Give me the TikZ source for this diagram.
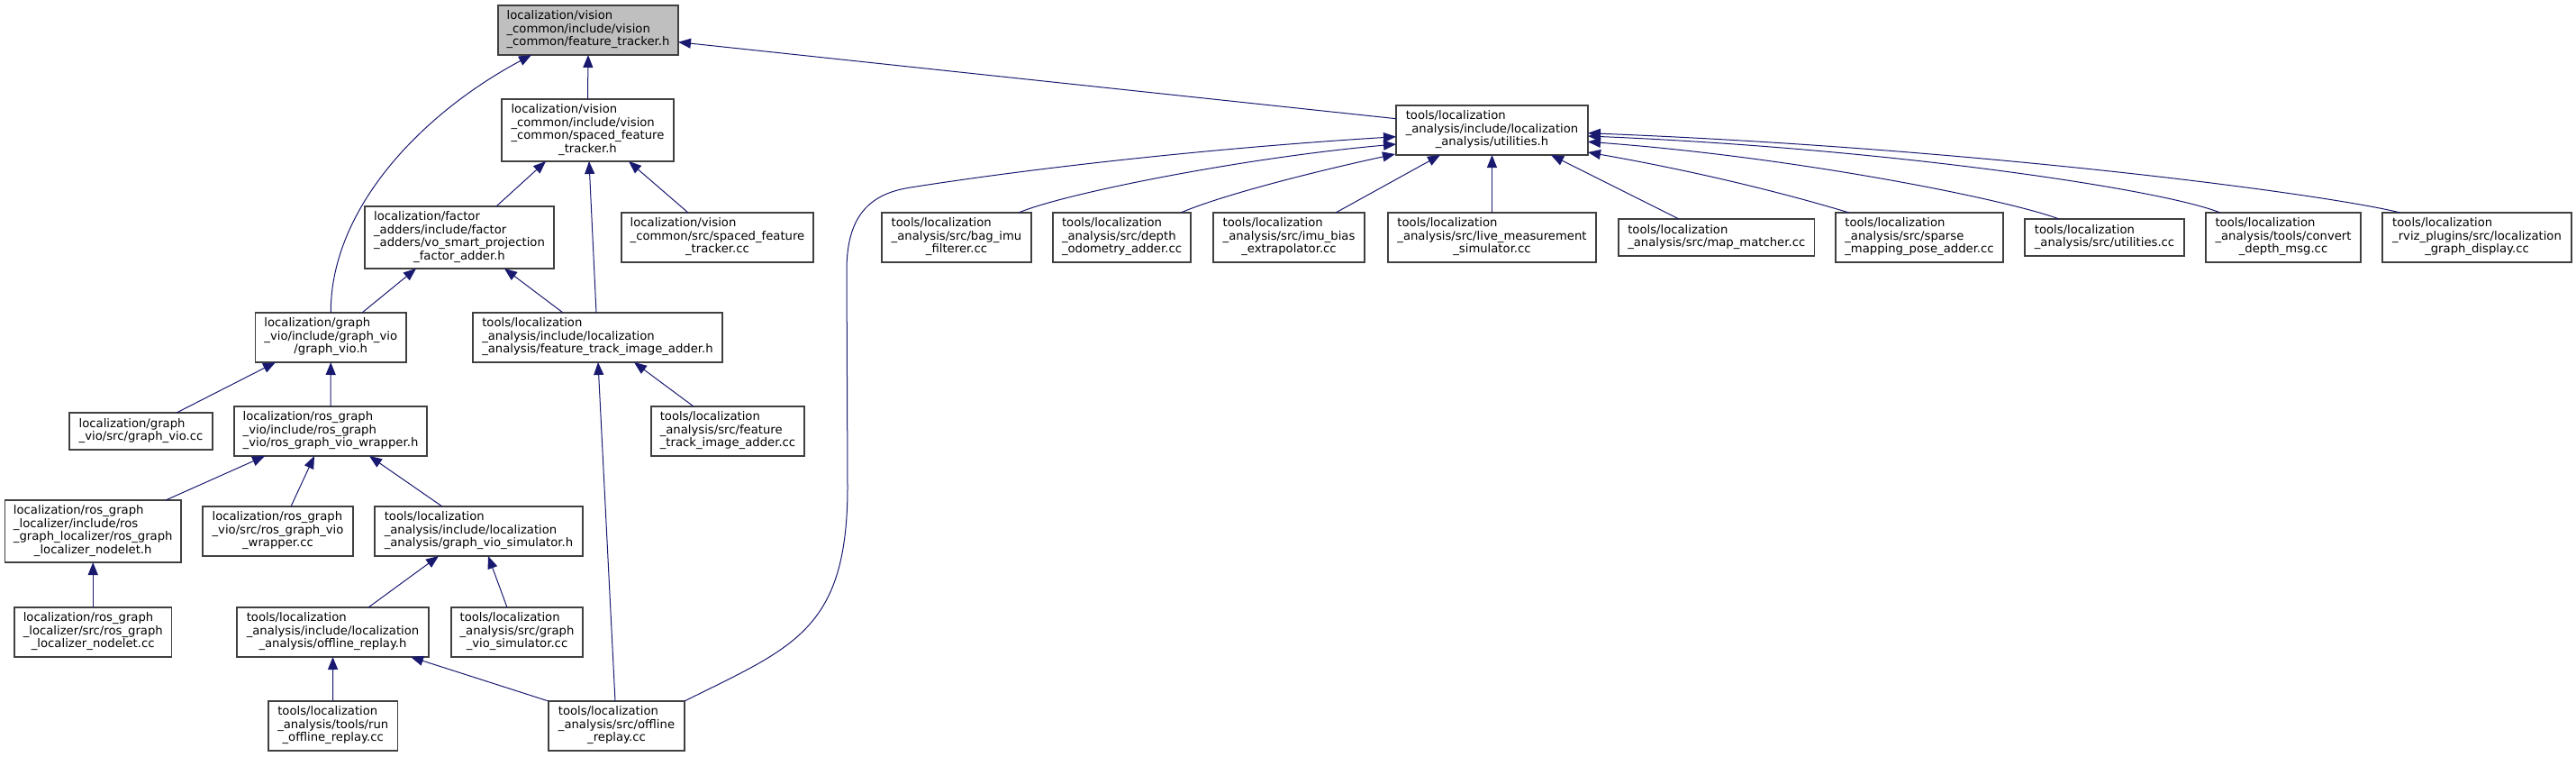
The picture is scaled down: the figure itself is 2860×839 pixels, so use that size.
\documentclass[tikz,border=0pt]{standalone}
\usepackage{fontspec}
\setmainfont{DejaVu Sans}
\usetikzlibrary{arrows.meta,calc}
\definecolor{edgeblue}{HTML}{191970}
\definecolor{rootgray}{HTML}{BFBFBF}
\definecolor{boxline}{HTML}{404040}
\newcommand\lbtab[1]{\begin{tabular}{@{}l@{}}#1\end{tabular}}
\newcommand\lastc[1]{\multicolumn{1}{@{}c@{}}{#1}}
\begin{document}
\begin{tikzpicture}[x=1pt,y=-1pt,
  nb/.style={rectangle,draw=boxline,line width=1.1pt,fill=white,inner sep=0pt,outer sep=0pt,font=\fontsize{13.2}{14.5}\selectfont},
  rootbox/.style={nb,fill=rootgray},
  edge/.style={draw=edgeblue,line width=1pt,-{Triangle[length=14pt,width=11pt]}}]
\useasboundingbox (0,0) rectangle (2860,839);

% ---- left part ----
\node[rootbox,minimum width=200pt,minimum height=55pt] (root) at (653,33.5) {\lbtab{localization/vision\\ \_common/include/vision\\ \lastc{\_common/feature\_tracker.h}}};
\node[nb,minimum width=191pt,minimum height=69pt] (sp) at (652.5,144.5) {\lbtab{localization/vision\\ \_common/include/vision\\ \_common/spaced\_feature\\ \lastc{\_tracker.h}}};
\node[nb,minimum width=210pt,minimum height=69pt] (vo) at (510,263.5) {\lbtab{localization/factor\\ \_adders/include/factor\\ \_adders/vo\_smart\_projection\\ \lastc{\_factor\_adder.h}}};
\node[nb,minimum width=213pt,minimum height=55pt] (sc) at (796.5,263.5) {\lbtab{localization/vision\\ \_common/src/spaced\_feature\\ \lastc{\_tracker.cc}}};
\node[nb,minimum width=167.5pt,minimum height=55pt] (gvh) at (367.25,374.5) {\lbtab{localization/graph\\ \_vio/include/graph\_vio\\ \lastc{/graph\_vio.h}}};
\node[nb,minimum width=277pt,minimum height=55pt] (fth) at (663.5,374.5) {\lbtab{tools/localization\\ \_analysis/include/localization\\ \lastc{\_analysis/feature\_track\_image\_adder.h}}};
\node[nb,minimum width=159pt,minimum height=41pt] (gvc) at (156.5,478.5) {\lbtab{localization/graph\\ \lastc{\_vio/src/graph\_vio.cc}}};
\node[nb,minimum width=214pt,minimum height=55pt] (wh) at (367,478.5) {\lbtab{localization/ros\_graph\\ \_vio/include/ros\_graph\\ \lastc{\_vio/ros\_graph\_vio\_wrapper.h}}};
\node[nb,minimum width=170pt,minimum height=55pt] (fac) at (808,478.5) {\lbtab{tools/localization\\ \_analysis/src/feature\\ \lastc{\_track\_image\_adder.cc}}};
\node[nb,minimum width=195.5pt,minimum height=69pt] (nh) at (103.25,589.5) {\lbtab{localization/ros\_graph\\ \_localizer/include/ros\\ \_graph\_localizer/ros\_graph\\ \lastc{\_localizer\_nodelet.h}}};
\node[nb,minimum width=167pt,minimum height=55pt] (wc) at (308.5,589.5) {\lbtab{localization/ros\_graph\\ \_vio/src/ros\_graph\_vio\\ \lastc{\_wrapper.cc}}};
\node[nb,minimum width=231pt,minimum height=55pt] (sh) at (531.5,589.5) {\lbtab{tools/localization\\ \_analysis/include/localization\\ \lastc{\_analysis/graph\_vio\_simulator.h}}};
\node[nb,minimum width=174.5pt,minimum height=55pt] (nc) at (103.25,701.5) {\lbtab{localization/ros\_graph\\ \_localizer/src/ros\_graph\\ \lastc{\_localizer\_nodelet.cc}}};
\node[nb,minimum width=213pt,minimum height=55pt] (orh) at (369.5,701.5) {\lbtab{tools/localization\\ \_analysis/include/localization\\ \lastc{\_analysis/offline\_replay.h}}};
\node[nb,minimum width=146pt,minimum height=55pt] (scc) at (574,701.5) {\lbtab{tools/localization\\ \_analysis/src/graph\\ \lastc{\_vio\_simulator.cc}}};
\node[nb,minimum width=143.5pt,minimum height=55pt] (ro) at (369.75,805.5) {\lbtab{tools/localization\\ \_analysis/tools/run\\ \lastc{\_offline\_replay.cc}}};
\node[nb,minimum width=151pt,minimum height=55pt] (ofc) at (684.5,805.5) {\lbtab{tools/localization\\ \_analysis/src/offline\\ \lastc{\_replay.cc}}};

% ---- right part ----
\node[nb,minimum width=213pt,minimum height=55pt] (util) at (1656.5,144.5) {\lbtab{tools/localization\\ \_analysis/include/localization\\ \lastc{\_analysis/utilities.h}}};
\node[nb,minimum width=166pt,minimum height=55pt] (bag) at (1062,263.5) {\lbtab{tools/localization\\ \_analysis/src/bag\_imu\\ \lastc{\_filterer.cc}}};
\node[nb,minimum width=153pt,minimum height=55pt] (do) at (1245.5,263.5) {\lbtab{tools/localization\\ \_analysis/src/depth\\ \lastc{\_odometry\_adder.cc}}};
\node[nb,minimum width=168pt,minimum height=55pt] (ib) at (1431,263.5) {\lbtab{tools/localization\\ \_analysis/src/imu\_bias\\ \lastc{\_extrapolator.cc}}};
\node[nb,minimum width=231pt,minimum height=55pt] (lm) at (1656.5,263.5) {\lbtab{tools/localization\\ \_analysis/src/live\_measurement\\ \lastc{\_simulator.cc}}};
\node[nb,minimum width=217.5pt,minimum height=41pt] (mm) at (1905.75,263.5) {\lbtab{tools/localization\\ \lastc{\_analysis/src/map\_matcher.cc}}};
\node[nb,minimum width=186pt,minimum height=55pt] (sp2) at (2131,263.5) {\lbtab{tools/localization\\ \_analysis/src/sparse\\ \lastc{\_mapping\_pose\_adder.cc}}};
\node[nb,minimum width=177pt,minimum height=41pt] (uc) at (2336.5,263.5) {\lbtab{tools/localization\\ \lastc{\_analysis/src/utilities.cc}}};
\node[nb,minimum width=172pt,minimum height=55pt] (cd) at (2535,263.5) {\lbtab{tools/localization\\ \_analysis/tools/convert\\ \lastc{\_depth\_msg.cc}}};
\node[nb,minimum width=210pt,minimum height=55pt] (gd) at (2750,263.5) {\lbtab{tools/localization\\ \_rviz\_plugins/src/localization\\ \lastc{\_graph\_display.cc}}};

% ---- edges (child -> included header) ----
\draw[edge] (sp.north) -- (root.south);
\draw[edge] (gvh.north) .. controls (367,230) and (470,125) .. ($(root.south)+(-63,0)$);
\draw[edge] ($(util.west)+(0,-12.8)$) -- ($(root.east)+(0,13.2)$);
\draw[edge] ($(vo.north)+(41,0)$) -- ($(sp.south)+(-46.5,0)$);
\draw[edge] ($(sc.north)+(-32.5,0)$) -- ($(sp.south)+(45.5,0)$);
\draw[edge] ($(fth.north)+(-1.5,0)$) -- ($(sp.south)+(1.5,0)$);
\draw[edge] ($(gvh.north)+(34.75,0)$) -- ($(vo.south)+(-48,0)$);
\draw[edge] ($(fth.north)+(-38.5,0)$) -- ($(vo.south)+(50,0)$);
\draw[edge] ($(gvc.north)+(39.5,0)$) -- ($(gvh.south)+(-61.25,0)$);
\draw[edge] (wh.north) -- (gvh.south);
\draw[edge] ($(fac.north)+(-38,0)$) -- ($(fth.south)+(40.5,0)$);
\draw[edge] ($(ofc.north)+(-1.5,0)$) -- ($(fth.south)+(0.5,0)$);
\draw[edge] ($(nh.north)+(80.75,0)$) -- ($(wh.south)+(-73,0)$);
\draw[edge] ($(wc.north)+(14.5,0)$) -- ($(wh.south)+(-18,0)$);
\draw[edge] ($(sh.north)+(-40.5,0)$) -- ($(wh.south)+(43,0)$);
\draw[edge] (nc.north) -- (nh.south);
\draw[edge] ($(orh.north)+(39.5,0)$) -- ($(sh.south)+(-44.5,0)$);
\draw[edge] ($(scc.north)+(-11,0)$) -- ($(sh.south)+(10.5,0)$);
\draw[edge] (ro.north) -- (orh.south);
\draw[edge] (ofc.north west) -- ($(orh.south)+(86.5,0)$);
\draw[edge] (ofc.north east) .. controls (880,718) and (941,700) .. (941,540) -- (940,300) .. controls (940,240) and (965,215) .. (1011,208) .. controls (1150,186) and (1350,164) .. ($(util.west)+(0,7.2)$);
\draw[edge] ($(bag.north)+(69,0)$) .. controls (1180,215) and (1380,175) .. ($(util.west)+(0,15.5)$);
\draw[edge] ($(do.north)+(65.5,0)$) .. controls (1360,215) and (1470,188) .. ($(util.south west)+(-1,-1)$);
\draw[edge] ($(ib.north)+(52,0)$) -- ($(util.south)+(-57.5,0)$);
\draw[edge] (lm.north) -- (util.south);
\draw[edge] ($(mm.north)+(-41.75,0)$) -- ($(util.south)+(65.5,0)$);
\draw[edge] ($(sp2.north)+(-78,0)$) .. controls (1960,208) and (1860,186) .. ($(util.east)+(0,24.5)$);
\draw[edge] ($(uc.north)+(-50.5,0)$) .. controls (2230,222) and (2000,175) .. ($(util.east)+(0,12.8)$);
\draw[edge] ($(cd.north)+(-70,0)$) .. controls (2400,210) and (2100,165) .. ($(util.east)+(0,6.5)$);
\draw[edge] ($(gd.north)+(-85,0)$) .. controls (2580,215) and (2200,165) .. ($(util.east)+(0,3.2)$);
\end{tikzpicture}
\end{document}
